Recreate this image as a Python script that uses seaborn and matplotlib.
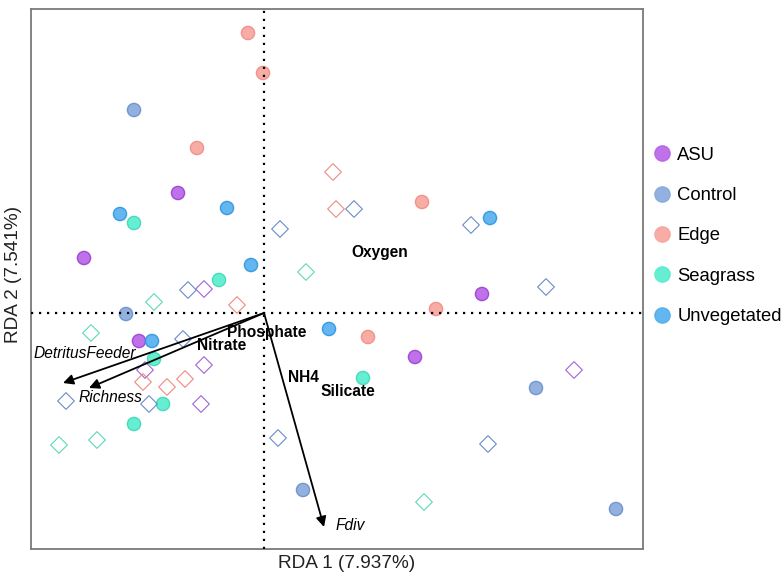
import numpy as np
import pandas as pd
import matplotlib
matplotlib.use("Agg")
import matplotlib.pyplot as plt
import seaborn as sns
from matplotlib.lines import Line2D

# site scores, filled circles
circ_site = ["ASU"] * 5 + ["Control"] * 5 + ["Edge"] * 6 + ["Seagrass"] * 6 + ["Unvegetated"] * 6
circ_rda1 = [-0.86, -1.80, 2.18, -1.25, 1.51,
             -1.30, -1.38, 2.72, 0.39, 3.52,
             -0.16, -0.01, -0.67, 1.58, 1.72, 1.04,
             -1.30, -0.45, -1.10, -1.01, -1.30, 0.99,
             -0.37, -1.44, -0.13, 2.26, -1.12, 0.65]
circ_rda2 = [1.20, 0.55, 0.19, -0.28, -0.44,
             2.03, -0.01, -0.75, -1.77, -1.96,
             2.80, 2.40, 1.65, 1.11, 0.04, -0.24,
             0.90, 0.33, -0.46, -0.91, -1.11, -0.65,
             1.05, 0.99, 0.48, 0.95, -0.28, -0.16]

# site scores, open diamonds
diam_site = ["ASU"] * 5 + ["Control"] * 10 + ["Edge"] * 6 + ["Seagrass"] * 6
diam_rda1 = [-0.60, -1.19, -0.60, -0.63, 3.10,
             0.16, 0.90, 2.07, 2.82, -0.76, -0.81, -1.98, -1.15, 0.14, 2.24,
             0.69, 0.72, -0.27, -1.21, -0.97, -0.79,
             0.42, -1.10, -1.73, -2.05, -1.67, 1.60]
diam_rda2 = [0.24, -0.57, -0.52, -0.91, -0.57,
             0.84, 1.04, 0.88, 0.26, 0.23, -0.26, -0.88, -0.91, -1.25, -1.31,
             1.41, 1.04, 0.08, -0.69, -0.74, -0.66,
             0.41, 0.11, -0.20, -1.32, -1.27, -1.89]

# response vectors
resp_names = ["DetritusFeeder", "Richness", "Fdiv"]
resp_x = [-2.01, -1.75, 0.60]
resp_y = [-0.70, -0.75, -2.14]
resp_lab_x = [-1.79, -1.54, 0.86]
resp_lab_y = [-0.40, -0.84, -2.13]

# environmental labels
env_names = ["Phosphate", "Nitrate", "NH4", "Silicate", "Oxygen"]
env_x = [0.025, -0.42, 0.39, 0.84, 1.16]
env_y = [-0.20, -0.33, -0.64, -0.79, 0.60]

sites = ["ASU", "Control", "Edge", "Seagrass", "Unvegetated"]
fill_cols = ["#B862E8", "#86A9DB", "#F7A39C", "#55EDCD", "#52AEEE"]
edge_cols = ["#9A40D2", "#6A8FCB", "#F08C84", "#3ED8B5", "#2F95DE"]
diam_cols = ["#A064D6", "#6A8CC6", "#EE8A82", "#5FD6B8", "#3F9BDF"]

sns.set_style("white")
plt.rcParams['font.family'] = ['Liberation Sans', 'DejaVu Sans']
plt.rcParams['text.color'] = 'black'
plt.rcParams['axes.labelcolor'] = '#222222'

circ = pd.DataFrame({"site": circ_site, "RDA1": circ_rda1, "RDA2": circ_rda2})
diam = pd.DataFrame({"site": diam_site, "RDA1": diam_rda1, "RDA2": diam_rda2})

fig = plt.figure(figsize=(7.83, 5.72), dpi=100)
ax = fig.add_axes([31 / 783, 1 - 549 / 572, 612 / 783, 540 / 572])

pal = dict(zip(sites, fill_cols))
ax = sns.scatterplot(data=circ, x="RDA1", y="RDA2", hue="site", hue_order=sites,
                     palette=pal, marker="o", s=90, alpha=0.9, linewidth=1,
                     legend=False, ax=ax, zorder=2)
ecol = dict(zip(sites, edge_cols))
ax.collections[-1].set_edgecolors([ecol[s] for s in circ["site"]])

dpal = dict(zip(sites, diam_cols))
sns.scatterplot(data=diam, x="RDA1", y="RDA2", hue="site", hue_order=sites,
                palette=dpal, marker="D", s=72, linewidth=0.8,
                legend=False, ax=ax, zorder=2)
dc = ax.collections[-1]
dc.set_edgecolors([dpal[s] for s in diam["site"]])
dc.set_facecolors("none")

# dotted zero lines
ax.axhline(0, color="black", lw=1.6, ls=(0, (1, 2.6)), zorder=3)
ax.axvline(0, color="black", lw=1.6, ls=(0, (1, 2.6)), zorder=3)

for n, x, y, lx, ly in zip(resp_names, resp_x, resp_y, resp_lab_x, resp_lab_y):
    ax.annotate("", xy=(x, y), xytext=(0, 0),
                arrowprops=dict(arrowstyle="-|>", color="black", lw=1.3,
                                shrinkA=0, shrinkB=0, mutation_scale=15),
                zorder=4)
    ax.text(lx, ly, n, style="italic", fontsize=11.2, ha="center", va="center", zorder=5)

for n, x, y in zip(env_names, env_x, env_y):
    ax.text(x, y, n, fontweight="bold", fontsize=11.2, ha="center", va="center", zorder=5)

ax.set_xlim(-2.33, 3.79)
ax.set_ylim(-2.36, 3.04)
ax.set_xticks([])
ax.set_yticks([])
for sp in ax.spines.values():
    sp.set_color("#7a7a7a")
    sp.set_linewidth(1.3)

ax.set_xlabel("RDA 1 (7.937%)", fontsize=13.7, va="center")
ax.set_ylabel("RDA 2 (7.541%)", fontsize=13.7, va="center")
ax.xaxis.set_label_coords(0.516, -0.027)
ax.yaxis.set_label_coords(-0.028, 0.509)

handles = [Line2D([], [], marker="o", ls="", markersize=11, markerfacecolor=c,
                  markeredgecolor=c, alpha=0.9) for c in fill_cols]
fig.legend(handles, sites, loc="center left", bbox_to_anchor=(645 / 783, 1 - 236 / 572),
           frameon=False, fontsize=13.3, handletextpad=0.35, labelspacing=1.27,
           handlelength=1.0, borderaxespad=0)

plt.savefig("out.png", dpi=100)
